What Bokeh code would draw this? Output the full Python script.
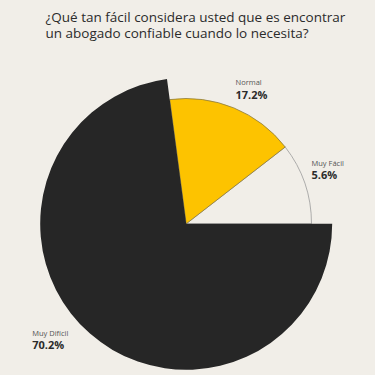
import math
from bokeh.plotting import figure
from bokeh.models import Range1d
from bokeh.core.properties import value
from bokeh.embed import file_html
from bokeh.resources import INLINE

# Data
categories = ["Muy Fácil", "Normal", "Muy Difícil"]
label_values = ["5.6%", "17.2%", "70.2%"]
# Angular shares of the circle as drawn in the picture (percent)
shares = [10.5, 16.6, 72.9]
colors = ["#f1eee8", "#fdc300", "#262626"]
outline = ["#9a9a9a", "#8a7a40", None]
title_lines = ["¿Qué tan fácil considera usted que es encontrar",
               "un abogado confiable cuando lo necesita?"]

BG = "#f1eee8"
W = H = 375

p = figure(width=W, height=H, output_backend="svg", toolbar_location=None,
           x_range=Range1d(0, W), y_range=Range1d(0, H),
           min_border=0, background_fill_color=BG, border_fill_color=BG,
           outline_line_color=None)
p.axis.visible = False
p.grid.visible = False

def Y(y_ref):
    return 375 - y_ref

cx, cy = 185.7, Y(223.3)
radii = [125.3, 125.3, 146.0]

start = 0.0
starts, ends = [], []
for s in shares:
    a0 = start
    a1 = start + s / 100 * 2 * math.pi
    starts.append(a0)
    ends.append(a1)
    start = a1

for i in range(len(categories)):
    kw = dict(line_color=outline[i], line_width=0.8) if outline[i] else dict(line_color=None)
    p.wedge(x=cx, y=cy, radius=radii[i], start_angle=starts[i], end_angle=ends[i],
            fill_color=colors[i], **kw)

# Labels
label_pos = [(311, 162.7, 174.3), (235, 81.5, 94.3), (31.7, 332.7, 344.3)]
font = "Open Sans"
for i, (lx, ly1, ly2) in enumerate(label_pos):
    p.text(x=[lx], y=[Y(ly1)], text=[categories[i]], text_font=value(font),
           text_font_size="7.5px", text_color="#555555",
           text_align="left", text_baseline="middle")
    p.text(x=[lx], y=[Y(ly2)], text=[label_values[i]], text_font=value(font),
           text_font_size="11px", text_font_style="bold", text_color="#2b2b2b",
           text_align="left", text_baseline="middle")

# Title
for j, line in enumerate(title_lines):
    p.text(x=[45], y=[Y(16 + 16 * j)], text=[line], text_font=value(font),
           text_font_size="13.5px", text_color="#2b2b2b",
           text_align="left", text_baseline="middle")

html = file_html(p, INLINE)
html = html.replace("<head>", "<head><style>html,body{margin:0;padding:0;background:#f1eee8;overflow:hidden;}</style>", 1)
open("out.html", "w").write(html)
